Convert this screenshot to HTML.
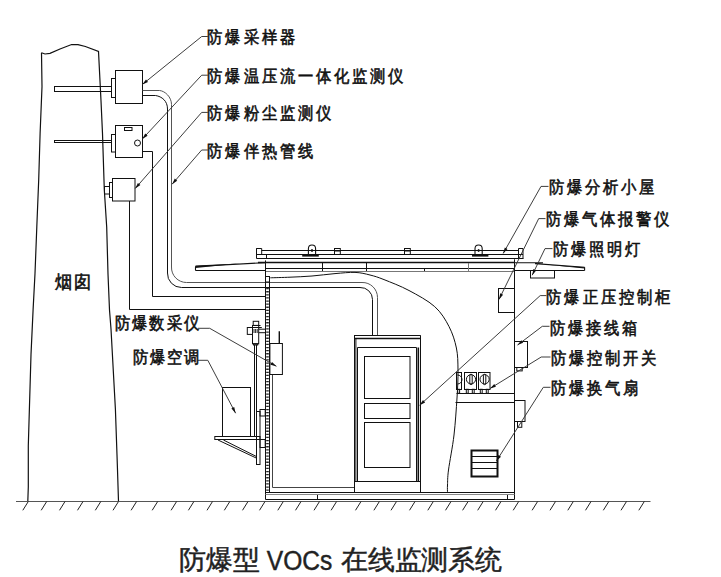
<!DOCTYPE html>
<html><head><meta charset="utf-8"><style>html,body{margin:0;padding:0;background:#fff;}svg{display:block}</style></head>
<body><svg width="721" height="577" viewBox="0 0 721 577">
<path d="M41.5,52.8 L45,54 L50,53.3 L60,49 L71.6,44.5 L78,44.7 L85.4,46.5 L98.5,51.5 L101,100.8 L102.5,133.6 L104.3,189.7 L106.7,227 L108,274 L109.5,310 L111,329 L115.4,409 L117,455 L117.5,470 L118.5,501.5" stroke="#111" fill="none" stroke-width="1.2"/>
<path d="M41.5,52.8 L42,86.7 L40.1,133.5 L38.7,180 L36.8,227 L35,273.6 L33.1,309.6 L31,354.6 L28.3,445.7 L28.3,487 L27.8,501.5" stroke="#111" fill="none" stroke-width="1.2"/>
<g stroke="#111" fill="none" stroke-width="1">
<rect x="54.5" y="86.5" width="57" height="5"/>
<rect x="111.5" y="78.5" width="4" height="19"/>
<rect x="115.5" y="70.5" width="27" height="33"/>
<rect x="115.5" y="125.5" width="27" height="32"/>
<rect x="124.5" y="127.5" width="7.5" height="3"/>
<circle cx="137.5" cy="143" r="3"/>
<rect x="111.5" y="134.5" width="4" height="17.5"/>
<rect x="54.5" y="140.5" width="57" height="2"/>
<rect x="112.5" y="178.5" width="22.5" height="22.5"/>
<rect x="109.5" y="182.5" width="3" height="15"/>
<rect x="104.5" y="186.5" width="5" height="7.5"/>
<path d="M142.7,151.5 H152.5 V296.5 H265"/>
<path d="M129.5,201 V309.5 H265"/>
<path stroke="#555" d="M142.5,90.5 H159.6 C165,91 171.5,97 171.5,104.5 V267 A15,15 0 0 0 186.5,282.5 H362 A15,15 0 0 1 377.5,297.5 V335"/>
<path d="M142.5,95.5 H155.5 C162,96.5 167.5,101 167.5,109 V273 A14,14 0 0 0 181.5,287.5 H360 A12,12 0 0 1 372.5,299.5 V335"/>
</g>
<g stroke="#111" fill="none" stroke-width="1">
<path d="M261.7,250.5 H518 M256.5,254.5 H518 M256.5,258.5 H523.5 M256.5,248.2 V258.5 M256.5,248.5 H261.7 V254.5 M266.5,254.5 V258.5"/>
<path d="M518.5,248.5 H523 V258.5 M518.5,248.5 V258.5 M518.5,254.5 H523"/>
<rect x="334.5" y="248.5" width="5.8" height="6"/><rect x="404.5" y="248.5" width="5.8" height="6"/><path d="M334.5,251 H340.3 M404.5,251 H410.3"/>
<path d="M308.4,254.5 V248.8 Q308.4,245 312,245 Q315.6,245 315.6,248.8 V254.5" stroke-width="1.1"/>
<circle cx="312" cy="250.5" r="0.9" fill="#111"/>
<path d="M302.2,255.6 H318.8" stroke-width="2"/>
<path d="M475.0,254.5 V248.8 Q475.0,245 478.6,245 Q482.20000000000005,245 482.20000000000005,248.8 V254.5" stroke-width="1.1"/>
<circle cx="478.6" cy="250.5" r="0.9" fill="#111"/>
<path d="M472.0,255.6 H488.40000000000003" stroke-width="2"/>
<path d="M258,262.5 H514.5" stroke-width="1.5"/>
<path d="M265.5,268.5 H514.5"/>
<path d="M265.5,271.5 H514.5 M468.5,263 V271" stroke="#777"/>
<path d="M322.5,262.5 V271 M366.5,262.5 V271 M424.5,268.5 V271"/>
<path d="M195.5,266.5 L265.3,262.6 M195.5,270.5 H265.5 M195.5,266.5 V270.5" stroke-width="1.1"/>
<path d="M195.5,265.6 L240,263.6 L195.5,268 Z" fill="#111" stroke="none"/>
<path d="M514.6,262.8 H543 M535,263.6 L584.6,267.2 M514.5,270.5 H584.6 M584.6,267.2 V270.5" stroke-width="1.1"/>
<path d="M545,264.6 L584.6,267.3 L584.6,268.4 Z" fill="#111" stroke="none"/>
<rect x="530.5" y="270.5" width="24" height="7.5"/>
<path d="M265.5,260.4 V499.5 M269.5,276.5 V492.5 M514.5,259.3 V499.5" />
<rect x="265.5" y="276.5" width="4" height="5.5"/>
</g>
<path d="M267.5,288 V492" stroke="#222" stroke-width="2.6" stroke-dasharray="1.3,1.8" fill="none"/>
<g stroke="#111" fill="none" stroke-width="1">
<path d="M265.5,492.5 H514.5 M265.5,499.5 H514.5 M317.5,495 V499.5 M507.5,495 V499.5"/>
<path d="M265.5,494.5 H514.5" stroke="#888"/>
<path d="M272.5,374.5 V487.5 H354.5" stroke="#444"/>
</g>
<path d="M270.3,277.8 C273.6,277.7 283.1,277.5 290.0,277.2 C296.9,276.9 304.5,276.6 312.0,276.0 C319.5,275.4 327.8,274.2 335.0,273.6 C342.2,273.0 349.2,272.2 355.0,272.4 C360.8,272.6 365.2,273.8 370.0,275.0 C374.8,276.2 377.5,277.0 384.0,279.6 C390.5,282.2 400.6,286.0 409.0,290.5 C417.4,295.0 428.0,300.6 434.7,306.6 C441.4,312.6 445.4,319.6 449.0,326.5 C452.6,333.4 454.9,340.8 456.4,348.0 C457.9,355.2 457.9,361.7 458.0,370.0 C458.1,378.3 457.7,387.2 457.0,398.0 C456.3,408.8 455.4,423.0 454.0,435.0 C452.6,447.0 449.6,461.7 448.5,470.0 C447.4,478.3 447.7,481.2 447.5,485.0 C447.3,488.8 447.5,491.2 447.5,492.5" stroke="#111" fill="none" stroke-width="1"/>
<g stroke="#111" fill="none" stroke-width="1">
<path d="M354,335.5 H420.7" />
<path d="M354,338.5 H420.7" stroke-width="1.6"/>
<path d="M354.5,335.5 V492 M420.5,335.5 V492 M355.9,338 V481 M357.5,347.5 V481 M416.5,347.5 V481 M357.5,347.5 H416.5"/>
<path d="M418.3,347.5 V481" stroke-width="1.6"/>
<rect x="364.5" y="356.5" width="45.5" height="42"/>
<rect x="364.5" y="403.5" width="45.5" height="15"/>
<rect x="364.5" y="422.5" width="45.5" height="45"/>
<path d="M354.5,481.5 H420.5"/>
</g>
<g stroke="#111" fill="none" stroke-width="1">
<rect x="456.5" y="372.5" width="5" height="17"/>
<rect x="464.5" y="372.5" width="12" height="17"/>
<rect x="478.5" y="372.5" width="11.5" height="17"/>
<circle cx="471" cy="379.3" r="4.6"/><rect x="469.8" y="374.3" width="2.4" height="10.3" rx="1"/>
<circle cx="484.6" cy="379.3" r="4.6"/><rect x="483.40000000000003" y="374.3" width="2.4" height="10.3" rx="1"/>
<path d="M457.5,375 A4.3,4.3 0 0 1 457.5,384"/>
<rect x="457.7" y="389.3" width="1.9" height="4"/>
<rect x="466.3" y="389.3" width="1.9" height="4"/>
<rect x="472.3" y="389.3" width="1.9" height="4"/>
<rect x="480.3" y="389.3" width="1.9" height="4"/>
<rect x="486.3" y="389.3" width="1.9" height="4"/>
<path d="M456.5,393.5 H514.5 M455.5,402.5 H514.5"/>
<rect x="514.5" y="341.5" width="13" height="26"/>
<rect x="516.8" y="367.5" width="5.4" height="3.4"/>
<rect x="498.5" y="288.5" width="16" height="24"/>
<rect x="514.5" y="400.5" width="10.5" height="21"/>
<rect x="517.5" y="421.5" width="4.3" height="5.8"/>
<rect x="471.5" y="450.5" width="26" height="26" stroke-width="2"/>
<path d="M472,456.5 H497 M472,462.5 H497 M472,468.5 H497"/>
</g>
<g stroke="#111" fill="none" stroke-width="1">
<rect x="269.9" y="343.5" width="12.5" height="31"/>
<path d="M279.3,331.2 V343.4" stroke-width="1.4"/>
<rect x="253.2" y="321.3" width="5.5" height="4.1"/>
<path d="M252.1,325.5 H260.5 M252.5,327.5 H261.8"/>
<rect x="252.5" y="325.5" width="6.2" height="18.3"/>
<path d="M254,329 V333 M255.6,329 V333 M257.2,329 V333" stroke-width="0.9"/>
<rect x="253.5" y="343.8" width="4.2" height="1.2"/>
<rect x="247.3" y="327.5" width="5.2" height="6.9"/>
<path d="M258.7,329.2 H265.3 M258.7,332.7 H265.3"/>
<path d="M254.5,345 V436.2 M256.5,345 V436.2"/>
<rect x="222.5" y="387.5" width="28" height="49"/>
<rect x="214.8" y="436.5" width="45.2" height="3"/>
<path d="M218,440 L256.2,458 M223.4,440 L256.2,456.4"/>
<rect x="256.5" y="411.5" width="3.5" height="53"/>
<rect x="260" y="409.5" width="5.2" height="6.5"/>
<rect x="260" y="439.5" width="5.2" height="8"/>
</g>
<path d="M16,501.5 H650.5" stroke="#555" stroke-width="1" fill="none"/>
<path d="M28.3,501.5 L22.8,510.3 M46.7,501.5 L41.2,510.3 M65,501.5 L59.5,510.3 M83,501.5 L77.5,510.3 M100.8,501.5 L95.3,510.3 M118.5,501.5 L113.0,510.3 M136.6,501.5 L131.1,510.3 M157.7,501.5 L152.2,510.3 M176.6,501.5 L171.1,510.3 M193.9,501.5 L188.4,510.3 M212.5,501.5 L207.0,510.3 M229.8,501.5 L224.3,510.3 M248,501.5 L242.5,510.3 M265,501.5 L259.5,510.3 M283.3,501.5 L277.8,510.3 M301,501.5 L295.5,510.3 M319.5,501.5 L314.0,510.3 M336.6,501.5 L331.1,510.3 M361,501.5 L355.5,510.3 M379.4,501.5 L373.9,510.3 M396.5,501.5 L391.0,510.3 M415,501.5 L409.5,510.3 M433.3,501.5 L427.8,510.3 M451,501.5 L445.5,510.3 M468.1,501.5 L462.6,510.3 M483.2,501.5 L477.7,510.3 M501,501.5 L495.5,510.3 M518.7,501.5 L513.2,510.3 M537.6,501.5 L532.1,510.3 M555.5,501.5 L550.0,510.3 M573.3,501.5 L567.8,510.3 M591,501.5 L585.5,510.3 M608.8,501.5 L603.3,510.3 M626.5,501.5 L621.0,510.3 M644.3,501.5 L638.8,510.3" stroke="#222" stroke-width="1" fill="none"/>
<path d="M207.8,36.5 L201.7,36.5 L142.3,84.5" stroke="#333" stroke-width="0.95" fill="none"/>
<path d="M142.3,84.5 L148.0,82.0 L146.0,79.5 Z" fill="#111"/>
<path d="M207.8,75.2 L201.7,75.2 L142.3,139" stroke="#333" stroke-width="0.95" fill="none"/>
<path d="M142.3,139.0 L147.6,135.7 L145.2,133.5 Z" fill="#111"/>
<path d="M207.8,112.4 L201.7,112.4 L135.2,188.5" stroke="#333" stroke-width="0.95" fill="none"/>
<path d="M135.2,188.5 L140.4,185.0 L137.9,182.9 Z" fill="#111"/>
<path d="M207.8,150 L201.7,150 L172.1,184.2" stroke="#333" stroke-width="0.95" fill="none"/>
<path d="M172.1,184.2 L177.2,180.7 L174.8,178.6 Z" fill="#111"/>
<path d="M548.5,186.4 L541,186.4 L503.2,253.4" stroke="#333" stroke-width="0.95" fill="none"/>
<path d="M503.2,253.4 L507.5,249.0 L504.8,247.4 Z" fill="#111"/>
<path d="M545.5,218.6 L538.7,218.6 L499,299.4" stroke="#333" stroke-width="0.95" fill="none"/>
<path d="M499.0,299.4 L503.1,294.7 L500.2,293.3 Z" fill="#111"/>
<path d="M552.5,248.6 L545,248.6 L532.2,275.2" stroke="#333" stroke-width="0.95" fill="none"/>
<path d="M532.2,275.2 L536.2,270.5 L533.4,269.1 Z" fill="#111"/>
<path d="M546.4,295.6 L540.2,295.6 L419.6,405.3" stroke="#333" stroke-width="0.95" fill="none"/>
<path d="M419.6,405.3 L425.1,402.4 L423.0,400.1 Z" fill="#111"/>
<path d="M549.5,326.3 L542.3,326.3 L517.5,345.1" stroke="#333" stroke-width="0.95" fill="none"/>
<path d="M517.5,345.1 L523.2,342.8 L521.3,340.2 Z" fill="#111"/>
<path d="M550.5,357 L541.2,357 L490,388.5" stroke="#333" stroke-width="0.95" fill="none"/>
<path d="M490.0,388.5 L495.9,386.7 L494.3,384.0 Z" fill="#111"/>
<path d="M550.5,387.3 L543.3,387.3 L496.4,461" stroke="#333" stroke-width="0.95" fill="none"/>
<path d="M496.4,461.0 L501.0,456.8 L498.3,455.1 Z" fill="#111"/>
<path d="M198,328.3 L209.7,328.3 L276.4,366.3" stroke="#333" stroke-width="0.95" fill="none"/>
<path d="M276.4,366.3 L272.0,361.9 L270.4,364.7 Z" fill="#111"/>
<path d="M198,360.3 L207.8,360.3 L235.6,413.2" stroke="#333" stroke-width="0.95" fill="none"/>
<path d="M235.6,413.2 L234.2,407.1 L231.4,408.6 Z" fill="#111"/>
<g font-family="'Liberation Sans', sans-serif" font-size="17.5" fill="#111" stroke="#111" stroke-width="0.6">
<text transform="translate(207.39999999999998,43.3) scale(0.9,1)" letter-spacing="2.2">防爆采样器</text>
<text transform="translate(207.39999999999998,81.8) scale(0.9,1)" letter-spacing="2.2">防爆温压流一体化监测仪</text>
<text transform="translate(207.39999999999998,118.8) scale(0.9,1)" letter-spacing="2.2">防爆粉尘监测仪</text>
<text transform="translate(207.39999999999998,156.8) scale(0.9,1)" letter-spacing="2.2">防爆伴热管线</text>
<text transform="translate(548.8000000000001,193.3) scale(0.9,1)" letter-spacing="2.2">防爆分析小屋</text>
<text transform="translate(545.7,224.8) scale(0.9,1)" letter-spacing="2.2">防爆气体报警仪</text>
<text transform="translate(552.7,254.8) scale(0.9,1)" letter-spacing="2.2">防爆照明灯</text>
<text transform="translate(546.4000000000001,302.8) scale(0.9,1)" letter-spacing="2.2">防爆正压控制柜</text>
<text transform="translate(549.5,333.6) scale(0.9,1)" letter-spacing="2.2">防爆接线箱</text>
<text transform="translate(550.6,363.8) scale(0.9,1)" letter-spacing="2.2">防爆控制开关</text>
<text transform="translate(550.6,393.8) scale(0.9,1)" letter-spacing="2.2">防爆换气扇</text>
<text transform="translate(114.5,329.3) scale(0.9,1)" letter-spacing="1.5">防爆数采仪</text>
<text transform="translate(133.2,363.3) scale(0.9,1)" letter-spacing="1.1">防爆空调</text>
<text transform="translate(55.2,288.2) scale(0.95,1)" font-size="18" letter-spacing="1.6">烟囱</text>
</g>
<g font-family="'Liberation Sans', sans-serif" font-size="27" fill="#222" stroke="#222" stroke-width="0.45">
<text x="179" y="569.2">防爆型</text>
<text x="266.8" y="569.5" textLength="65.5" lengthAdjust="spacingAndGlyphs" font-size="28.4">VOCs</text>
<text x="341" y="569.2" letter-spacing="-0.2">在线监测系统</text>
</g>
</svg></body></html>
